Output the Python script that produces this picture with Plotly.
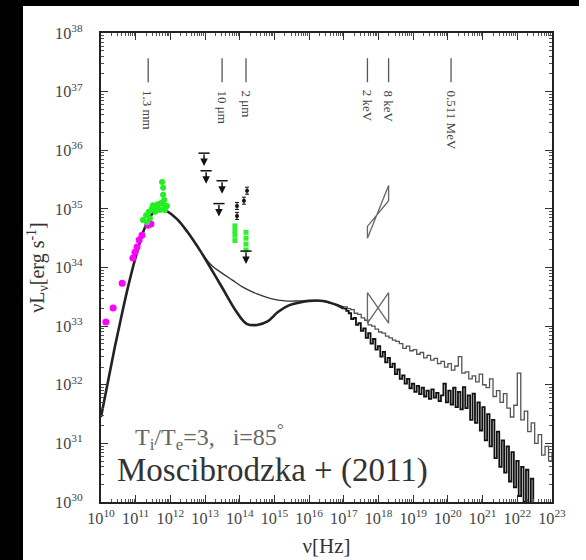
import plotly.graph_objects as go

# ---------------- data (log10 values) ----------------
# shared low-frequency part of both model spectra
rise_lognu = [10.0, 10.2, 10.4, 10.6, 10.8, 11.0, 11.2, 11.4, 11.55, 11.7, 11.9, 12.2, 12.5, 12.9]
rise_logL = [31.45, 32.05, 32.65, 33.2, 33.72, 34.18, 34.58, 34.85, 34.96, 35.0, 34.96, 34.82, 34.6, 34.25]

# thin model, smooth mid part
thin_mid_lognu = [12.9, 13.2, 13.5, 13.8, 14.1, 14.5, 14.9, 15.3, 15.8, 16.3, 16.7, 17.0]
thin_mid_logL = [34.25, 34.03, 33.9, 33.78, 33.66, 33.55, 33.47, 33.43, 33.43, 33.43, 33.38, 33.33]

# thick model, smooth mid part
thick_mid_lognu = [12.9, 13.2, 13.5, 13.9, 14.2, 14.5, 14.8, 15.1, 15.4, 15.7, 16.0, 16.4, 16.8, 17.0]
thick_mid_logL = [34.25, 33.95, 33.65, 33.25, 33.04, 33.02, 33.08, 33.24, 33.35, 33.4, 33.43, 33.43, 33.36, 33.3]

# noisy Monte-Carlo high-energy tails
thin_hi_lognu = [17.0, 17.1, 17.2, 17.3, 17.4, 17.5, 17.6, 17.7, 17.8, 17.9,
                 18.0, 18.1, 18.2, 18.3, 18.4, 18.5, 18.6, 18.7, 18.8, 18.9,
                 19.0, 19.1, 19.2, 19.3, 19.4, 19.5, 19.6, 19.7, 19.8, 19.9,
                 20.0, 20.1, 20.2, 20.3, 20.4, 20.5, 20.6, 20.7, 20.8, 20.9,
                 21.0, 21.1, 21.2, 21.3, 21.4, 21.5, 21.6, 21.7, 21.8, 21.9,
                 22.0, 22.1, 22.2, 22.3, 22.4, 22.5, 22.6, 22.7, 22.8, 22.9, 23.0]
thin_hi_logL = [33.33, 33.30, 33.28, 33.22, 33.20, 33.14, 33.10, 33.02, 33.00, 32.95,
                32.90, 32.88, 32.83, 32.80, 32.76, 32.74, 32.70, 32.62, 32.66, 32.58,
                32.60, 32.52, 32.55, 32.46, 32.50, 32.42, 32.45, 32.36, 32.40, 32.30,
                32.36, 32.25, 32.32, 32.48, 32.20, 32.22, 32.10, 32.15, 32.05, 32.18,
                32.00, 31.95, 32.10, 31.80, 31.90, 31.70, 31.85, 31.60, 31.45, 31.65,
                32.20, 31.40, 31.55, 31.20, 31.35, 31.00, 31.15, 30.80, 30.95, 30.70, 30.85]

thick_hi_lognu = [17.0, 17.07, 17.14, 17.21, 17.28, 17.35, 17.42, 17.49, 17.56, 17.63,
                  17.7, 17.77, 17.84, 17.91, 17.98, 18.05, 18.12, 18.19, 18.26, 18.33,
                  18.4, 18.47, 18.54, 18.61, 18.68, 18.75, 18.82, 18.89, 18.96, 19.03,
                  19.1, 19.17, 19.24, 19.31, 19.38, 19.45, 19.52, 19.59, 19.66, 19.73,
                  19.8, 19.87, 19.94, 20.01, 20.08, 20.15, 20.22, 20.29, 20.36, 20.43,
                  20.5, 20.57, 20.64, 20.71, 20.78, 20.85, 20.92, 20.99, 21.06, 21.13,
                  21.2, 21.27, 21.34, 21.41, 21.48, 21.55, 21.62, 21.69, 21.76, 21.83,
                  21.9, 21.97, 22.04, 22.11, 22.18, 22.25, 22.32, 22.39, 22.46]
thick_hi_logL = [33.30, 33.26, 33.22, 33.12, 33.14, 33.02, 33.05, 32.92, 32.96, 32.80,
                 32.88, 32.70, 32.78, 32.60, 32.66, 32.48, 32.56, 32.38, 32.46, 32.30,
                 32.36, 32.18, 32.26, 32.10, 32.16, 32.02, 32.10, 31.94, 32.02, 31.88,
                 31.98, 31.84, 31.95, 31.80, 31.90, 31.76, 31.92, 31.78, 31.86, 31.72,
                 31.82, 32.02, 31.70, 31.90, 31.66, 31.95, 31.62, 31.88, 31.58, 31.96,
                 31.60, 31.82, 31.40, 31.85, 31.35, 31.70, 31.22, 31.62, 31.05, 31.50,
                 30.95, 31.40, 30.75, 31.20, 30.60, 31.05, 30.50, 30.95, 30.35, 30.85,
                 30.25, 30.70, 30.10, 30.60, 30.00, 30.55, 29.90, 30.40, 29.80]

# radio / submm observations (magenta)
radio_lognu = [10.14, 10.35, 10.61, 10.92, 10.98, 11.04, 11.10, 11.18, 11.35, 11.44]
radio_logL = [33.07, 33.31, 33.73, 34.16, 34.26, 34.35, 34.47, 34.55, 34.72, 34.74]

# submm bump observations (green)
submm_lognu = [11.21, 11.30, 11.38, 11.47, 11.56, 11.64, 11.73, 11.82, 11.90, 11.79,
               11.79, 11.76, 11.82, 11.70, 11.56, 11.41, 11.33, 11.84, 11.64, 11.50]
submm_logL = [34.81, 34.89, 34.95, 35.01, 35.05, 35.08, 35.10, 35.06, 35.05, 35.24,
              35.36, 35.46, 35.15, 34.98, 34.95, 34.84, 34.77, 34.98, 35.01, 35.06]

# NIR flare points (green)
nir_lognu = [13.86, 13.86, 13.86, 13.86, 14.18, 14.18, 14.18, 14.18]
nir_logL = [34.71, 34.63, 34.55, 34.46, 34.60, 34.50, 34.40, 34.30]

# IR upper limits
ul_lognu = [12.97, 13.03, 13.49, 13.40, 14.18]
ul_logL = [35.95, 35.65, 35.48, 35.09, 34.28]

# IR detections with error bars (black)
ir_lognu = [13.92, 13.92, 14.21, 14.12]
ir_logL = [35.05, 34.88, 35.31, 35.14]
ir_err = [0.06, 0.06, 0.06, 0.06]

# X-ray bow-ties (2-8 keV): flare and quiescent
xray_lognu = [17.68, 18.29]
flare_lo = [34.50, 35.40]
flare_hi = [34.70, 35.14]
quiet_lo = [33.05, 33.57]
quiet_hi = [33.57, 33.05]

# band markers at the top
band_lognu = [11.36, 13.49, 14.18, 17.68, 18.29, 20.09]
band_labels = ["1.3 mm", "10 μm", "2 μm", "2 keV", "8 keV", "0.511 MeV"]

# ---------------- figure ----------------
L, R, T, B = 101, 34, 33, 58
W, H = 586, 560
PW, PH = W - L - R, H - T - B

def px(x):
    return (x - L) / PW

def py(y):
    return (H - B - y) / PH

fig = go.Figure()

fig.add_trace(go.Scatter(x=[10 ** v for v in rise_lognu], y=[10 ** v for v in rise_logL],
                         mode="lines", line=dict(color="#222", width=2.6, shape="spline"),
                         showlegend=False))
fig.add_trace(go.Scatter(x=[10 ** v for v in thin_mid_lognu], y=[10 ** v for v in thin_mid_logL],
                         mode="lines", line=dict(color="#333", width=1.3, shape="spline"),
                         showlegend=False))
fig.add_trace(go.Scatter(x=[10 ** v for v in thick_mid_lognu], y=[10 ** v for v in thick_mid_logL],
                         mode="lines", line=dict(color="#222", width=2.6, shape="spline"),
                         showlegend=False))
fig.add_trace(go.Scatter(x=[10 ** v for v in thin_hi_lognu], y=[10 ** v for v in thin_hi_logL],
                         mode="lines", line=dict(color="#555", width=1.3, shape="hv"),
                         showlegend=False))
fig.add_trace(go.Scatter(x=[10 ** v for v in thick_hi_lognu], y=[10 ** v for v in thick_hi_logL],
                         mode="lines", line=dict(color="#111", width=1.8, shape="hv"),
                         showlegend=False))

# bow ties
for lo, hi in [(flare_lo, flare_hi), (quiet_lo, quiet_hi)]:
    bx = [xray_lognu[0], xray_lognu[1], xray_lognu[1], xray_lognu[0], xray_lognu[0]]
    by = [lo[0], lo[1], hi[1], hi[0], lo[0]]
    fig.add_trace(go.Scatter(x=[10 ** v for v in bx], y=[10 ** v for v in by], mode="lines",
                             line=dict(color="#666", width=1.3), showlegend=False))

fig.add_trace(go.Scatter(x=[10 ** v for v in radio_lognu], y=[10 ** v for v in radio_logL],
                         mode="markers", marker=dict(color="#ff00ff", size=7),
                         showlegend=False))
fig.add_trace(go.Scatter(x=[10 ** v for v in submm_lognu], y=[10 ** v for v in submm_logL],
                         mode="markers", marker=dict(color="#22ee22", size=6),
                         showlegend=False))
fig.add_trace(go.Scatter(x=[10 ** v for v in nir_lognu], y=[10 ** v for v in nir_logL],
                         mode="markers", marker=dict(color="#33ee33", size=5, symbol="square"),
                         showlegend=False))
fig.add_trace(go.Scatter(x=[10 ** v for v in ir_lognu], y=[10 ** v for v in ir_logL],
                         mode="markers", marker=dict(color="#111", size=4),
                         error_y=dict(type="data", array=[10 ** (v + e) - 10 ** v for v, e in zip(ir_logL, ir_err)],
                                      arrayminus=[10 ** v - 10 ** (v - e) for v, e in zip(ir_logL, ir_err)],
                                      color="#111", thickness=1, width=2),
                         showlegend=False))
# upper-limit bars
fig.add_trace(go.Scatter(x=[10 ** v for v in ul_lognu], y=[10 ** v for v in ul_logL],
                         mode="markers", marker=dict(symbol="line-ew", size=8,
                                                     line=dict(color="#111", width=1.5)),
                         showlegend=False))
for xv, yv in zip(ul_lognu, ul_logL):
    fig.add_annotation(x=xv, y=yv - 0.22, xref="x", yref="y", text="", showarrow=True,
                       ax=0, ay=-13, arrowhead=2, arrowsize=1, arrowwidth=1.5,
                       arrowcolor="#111")

# band marker lines + labels
for xv, lab in zip(band_lognu, band_labels):
    fig.add_trace(go.Scatter(x=[10 ** xv, 10 ** xv], y=[10 ** 37.57, 10 ** 37.16], mode="lines",
                             line=dict(color="#555", width=1.3), showlegend=False))
    fig.add_annotation(x=xv, y=37.06, xref="x", yref="y", text=lab, showarrow=False,
                       textangle=90, yanchor="top", xanchor="center",
                       font=dict(family="Liberation Serif", size=13, color="#444"))

fig.add_annotation(x=px(133), y=py(437), xref="paper", yref="paper", xanchor="left",
                   yanchor="middle", showarrow=False,
                   text="T<sub>i</sub>/T<sub>e</sub>=3,   i=85<sup>°</sup>",
                   font=dict(family="Liberation Serif", size=24, color="#666"))
fig.add_annotation(x=px(115), y=py(470), xref="paper", yref="paper", xanchor="left",
                   yanchor="middle", showarrow=False,
                   text="Moscibrodzka + (2011)",
                   font=dict(family="Liberation Serif", size=33, color="#333"))

# black scan border
fig.add_shape(type="rect", xref="paper", yref="paper", x0=px(-2), x1=px(23), y0=py(H + 2), y1=py(-2),
              fillcolor="black", line=dict(width=0), layer="above")
fig.add_shape(type="rect", xref="paper", yref="paper", x0=px(-2), x1=px(579), y0=py(6), y1=py(-2),
              fillcolor="black", line=dict(width=0), layer="above")

axis_common = dict(type="log", showgrid=False, zeroline=False, showline=True, linecolor="#222",
                   linewidth=1.5, mirror="allticks", ticks="inside", ticklen=7, tickwidth=1,
                   tickcolor="#333", dtick=1, exponentformat="power", showexponent="all",
                   automargin=False,
                   minor=dict(ticks="inside", ticklen=3.5, tickcolor="#555", dtick="D1", showgrid=False),
                   tickfont=dict(family="Liberation Serif", size=13, color="#444"))

fig.update_xaxes(range=[10, 23], title=dict(text="ν[Hz]", standoff=12,
                 font=dict(family="Liberation Serif", size=21, color="#333")),
                 ticklabelstandoff=1, **axis_common)
fig.update_yaxes(range=[30, 38], title=dict(text="νL<sub>ν</sub>[erg s<sup>-1</sup>]", standoff=5,
                 font=dict(family="Liberation Serif", size=20, color="#333")),
                 ticklabelstandoff=14, **axis_common)

fig.update_layout(width=W, height=H, margin=dict(l=L, r=R, t=T, b=B),
                  paper_bgcolor="white", plot_bgcolor="white", showlegend=False)

fig.write_html("out.html", config={"displayModeBar": False},
               post_script="document.body.style.margin='0';document.body.style.overflow='hidden';")
